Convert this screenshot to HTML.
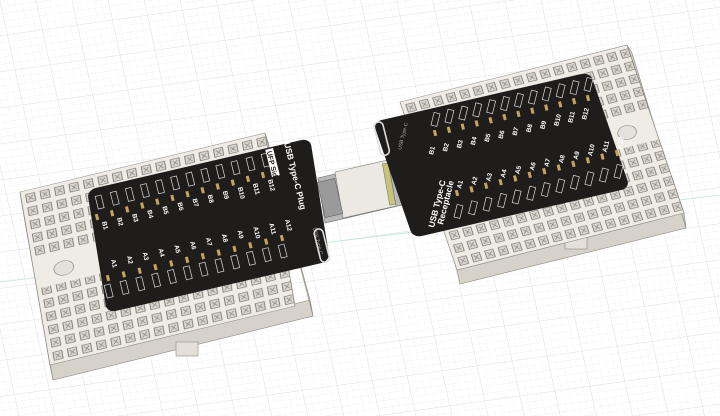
<!DOCTYPE html>
<html><head><meta charset="utf-8"><style>
html,body{margin:0;padding:0;background:#fff;}
svg{display:block}
text{font-family:"Liberation Sans",sans-serif;}
</style></head><body>
<svg id="s" width="720" height="416" viewBox="0 0 720 416" xmlns="http://www.w3.org/2000/svg">
<defs>
<pattern id="gmin" width="7" height="7" patternUnits="userSpaceOnUse" patternTransform="matrix(1,-0.14,0.22,1,0,0)">
<path d="M7 0V7M0 7H7" stroke="#efefef" stroke-width="0.6" fill="none"/></pattern>
<pattern id="gmaj" width="35" height="35" patternUnits="userSpaceOnUse" patternTransform="matrix(1,-0.14,0.22,1,0,0)">
<path d="M35 0V35M0 35H35" stroke="#dedede" stroke-width="0.8" fill="none"/></pattern>
<pattern id="holes" width="5.9" height="7.6" patternUnits="userSpaceOnUse" x="1" y="1">
<rect x="1" y="1.2" width="3.6" height="4.6" fill="#d9d6d0" stroke="#77736c" stroke-width="0.35"/>
<path d="M1.8 2.2L3.8 4.8M3.8 2.2L1.8 4.8" stroke="#8a867f" stroke-width="0.35"/>
</pattern>
</defs>
<rect width="720" height="416" fill="#fff"/>
<rect width="720" height="416" fill="url(#gmin)"/>
<rect width="720" height="416" fill="url(#gmaj)"/>
<line x1="0" y1="282" x2="720" y2="195" stroke="#bfe6cf" stroke-width="0.8"/>

<!-- left breadboard -->
<polygon points="50,365 310,300 313,316 53,380" fill="#d6d2ca" stroke="#8d8980" stroke-width="0.6"/>
<polygon points="310,300 265,133 268,142 313,316" fill="#cdc9c1" stroke="#8d8980" stroke-width="0.6"/>
<polygon points="20,192 50,365 53,380 22,205" fill="#c8c4bc" stroke="#8d8980" stroke-width="0.6"/>
<rect x="176" y="342" width="22" height="14" fill="#e4e0d9" stroke="#8d8980" stroke-width="0.6"/>
<g transform="matrix(2.45,-0.59,0.30,1.73,20,192)">
<rect x="0" y="0" width="100" height="100" fill="#efece6" stroke="#8d8980" stroke-width="0.3"/>
<rect x="0" y="0" width="100" height="38" fill="url(#holes)"/>
<rect x="0" y="56" width="100" height="44" fill="url(#holes)"/>
<circle cx="12" cy="48" r="4" fill="#e4e1dc" stroke="#8d8980" stroke-width="0.3"/>
</g>
<!-- right breadboard -->
<polygon points="457,270 684,213 686,228 460,284" fill="#d6d2ca" stroke="#8d8980" stroke-width="0.6"/>
<polygon points="684,213 627,45 632,53 686,228" fill="#cdc9c1" stroke="#8d8980" stroke-width="0.6"/>
<rect x="565" y="235" width="22" height="14" fill="#e4e0d9" stroke="#8d8980" stroke-width="0.6"/>
<g transform="matrix(2.27,-0.57,0.57,1.68,400,102)">
<rect x="0" y="0" width="100" height="100" fill="#efece6" stroke="#8d8980" stroke-width="0.3"/>
<rect x="0" y="0" width="100" height="38" fill="url(#holes)"/>
<rect x="0" y="56" width="100" height="44" fill="url(#holes)"/>
<circle cx="88" cy="48" r="4" fill="#e4e1dc" stroke="#8d8980" stroke-width="0.3"/>
</g>

<!-- connector -->
<polygon points="318,178 395,160 402,205 325,223" fill="#b9b9b9" stroke="#666" stroke-width="0.6"/>
<polygon points="335,172 388,160 396,206 343,218" fill="#ece9e3" stroke="#777" stroke-width="0.6"/>
<rect x="321" y="180" width="18" height="36" fill="#9a9a9a" stroke="#555" stroke-width="0.5" transform="rotate(-13 330 198)"/>
<rect x="386" y="163" width="6" height="42" fill="#c9c27a" stroke="#555" stroke-width="0.4" transform="rotate(-10 389 184)"/>

<!-- left board -->
<g transform="matrix(2.23,-0.52,0.20,1.23,87,190)">
<rect x="0" y="0" width="100" height="100" rx="4" ry="6" fill="#1f1d1c"/>
</g>
<!-- right board -->
<g transform="matrix(2.17,-0.50,0.40,1.16,373,122)">
<rect x="0" y="0" width="100" height="100" rx="4" ry="6" fill="#1f1d1c"/>
</g>
<g id="dyn"></g>

<text x="0" y="0" font-size="8.5" font-weight="bold" fill="#fff" transform="translate(284,143) rotate(76)">USB Type-C Plug</text>
<rect x="0" y="0" width="28" height="8" fill="#fff" transform="translate(273,148) rotate(76)"/>
<text x="2" y="7" font-size="7" font-weight="bold" fill="#1f1d1c" transform="translate(273,148) rotate(76)">UFP Side</text>
<text x="0" y="0" font-size="5" fill="#aaa" transform="translate(313,228) rotate(76)">USB Type-C</text>
<rect x="0" y="0" width="34" height="9" rx="4.5" fill="none" stroke="#ddd" stroke-width="1.6" transform="translate(322,228) rotate(76)"/>
<rect x="0" y="0" width="34" height="9" rx="4.5" fill="none" stroke="#ddd" stroke-width="1.6" transform="translate(382,121) rotate(76)"/>
<text x="0" y="0" font-size="5" fill="#aaa" transform="translate(401,150) rotate(-76)">USB Type-C</text>
<text x="0" y="0" font-size="8.5" font-weight="bold" fill="#fff" transform="translate(434,228) rotate(-76)">USB Type-C</text>
<text x="0" y="0" font-size="8.5" font-weight="bold" fill="#fff" transform="translate(443,225) rotate(-76)">Receptacle</text>
</svg>
<script>
var g=document.getElementById('dyn'),NS='http://www.w3.org/2000/svg';
function el(t,a,txt){var e=document.createElementNS(NS,t);for(var k in a)e.setAttribute(k,a[k]);if(txt)e.textContent=txt;g.appendChild(e);return e;}
function row(x0,y0,x1,y1,pre,lx,ly,rot,tx,ty){
 for(var i=0;i<12;i++){var x=x0+(x1-x0)*i/11,y=y0+(y1-y0)*i/11;
  el('rect',{x:x-1.5,y:y-3,width:3,height:6,fill:'#c8a45a',transform:'rotate(-14 '+x+' '+y+')'});
  el('text',{x:0,y:0,'font-size':6.5,'font-weight':'bold',fill:'#fff',transform:'translate('+(x+lx)+','+(y+ly)+') rotate('+rot+')'},pre+(i+1));
  el('rect',{x:0,y:0,width:13,height:6,fill:'none',stroke:'#ddd','stroke-width':0.7,transform:'translate('+(x+tx)+','+(y+ty)+') rotate('+rot+')'});
 }}
row(97,217,263,175,'B',5,5,76,4,-22);
row(108,278,282,238,'A',3,-18,76,2,6);
row(435,133,588,98,'B',-2,22,-76,-4,-8);
row(457,193,617,153,'A',4,-4,-76,-3,24);
</script>
</body></html>
